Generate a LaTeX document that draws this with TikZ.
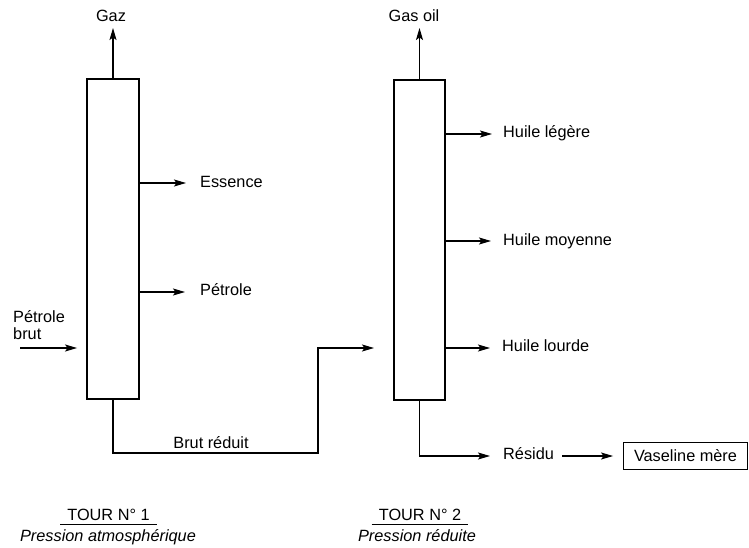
\documentclass[tikz,border=0pt]{standalone}
\usepackage{fontspec}
\setmainfont{Liberation Sans}
\usetikzlibrary{arrows.meta}
\begin{document}
\begin{tikzpicture}[x=1pt,y=-1pt,
  tower/.style={draw,line width=2.4pt,inner sep=0pt},
  arr/.style={line width=1.1pt,-{Stealth[length=12pt,width=7pt,inset=2.5pt]}},
  lab/.style={inner sep=0pt,font=\fontsize{16.3}{17}\selectfont},
  ital/.style={inner sep=0pt,font=\fontsize{16.3}{17}\selectfont\itshape},
  boxed/.style={draw,line width=0.9pt,inner sep=0pt,minimum width=124pt,minimum height=27pt,font=\fontsize{16.3}{17}\selectfont}
]
\useasboundingbox[fill=white] (0,0) rectangle (749,548);

% towers
\node[tower,minimum width=51.5pt,minimum height=319.5pt] (t1) at (113,239) {};
\node[tower,minimum width=50.5pt,minimum height=319.5pt] (t2) at (419.5,240) {};

% tower 1 outputs
\node[lab,anchor=base] (gaz) at (111,22) {Gaz};
\coordinate (gazend) at (113,28);
\draw[arr] (t1.north) -- (gazend);

\node[lab,anchor=base west] (ess) at (200,187) {Essence};
\coordinate (essend) at (186,183);
\draw[arr] (t1.east |- essend) -- (essend);

\node[lab,anchor=base west] (pet) at (200,295) {Pétrole};
\coordinate (petend) at (185,292);
\draw[arr] (t1.east |- petend) -- (petend);

% feed
\node[lab,anchor=base west,align=left] (pb) at (13,339) {Pétrole\\brut};
\coordinate (pbstart) at (20,348);
\draw[arr] (pbstart) -- ([xshift=-9pt]t1.west |- pbstart);
% transfer
\coordinate (brcorner) at (318,453);
\coordinate (brend) at (374,348);
\draw[arr] (t1.south) |- (brcorner) |- (brend);
\node[lab,anchor=base] (br) at (211,448) {Brut réduit};

% tower 2 outputs
\node[lab,anchor=base] (go) at (414,22) {Gas oil};
\coordinate (goend) at (419.5,28);
\draw[arr] (t2.north) -- (goend);

\node[lab,anchor=base west] (hl) at (503,138) {Huile légère};
\coordinate (hlend) at (492,134);
\draw[arr] (t2.east |- hlend) -- (hlend);

\node[lab,anchor=base west] (hm) at (503,245) {Huile moyenne};
\coordinate (hmend) at (491,241);
\draw[arr] (t2.east |- hmend) -- (hmend);

\node[lab,anchor=base west] (hlo) at (502,351) {Huile lourde};
\coordinate (hloend) at (490,348);
\draw[arr] (t2.east |- hloend) -- (hloend);

\node[lab,anchor=base west] (res) at (503,459) {Résidu};
\coordinate (resend) at (490,456);
\draw[arr] (t2.south) |- (resend);

\node[boxed] (vm) at (685.5,455.5) {Vaseline mère};
\coordinate (vmstart) at (562,456);
\draw[arr] (vmstart) -- ([xshift=-10pt]vm.west |- vmstart);

% captions
\node[lab,anchor=base,inner xsep=7pt] (tour1) at (108.5,520) {TOUR N° 1};
\draw[line width=1pt] ([yshift=-4pt]tour1.base west) -- ([yshift=-4pt]tour1.base east);
\node[ital,anchor=base] (p1) at (108,541) {Pression atmosphérique};

\node[lab,anchor=base,inner xsep=7pt] (tour2) at (420,520) {TOUR N° 2};
\draw[line width=1pt] ([yshift=-4.5pt]tour2.base west) -- ([yshift=-4.5pt]tour2.base east);
\node[ital,anchor=base] (p2) at (417,541) {Pression réduite};
\end{tikzpicture}
\end{document}
